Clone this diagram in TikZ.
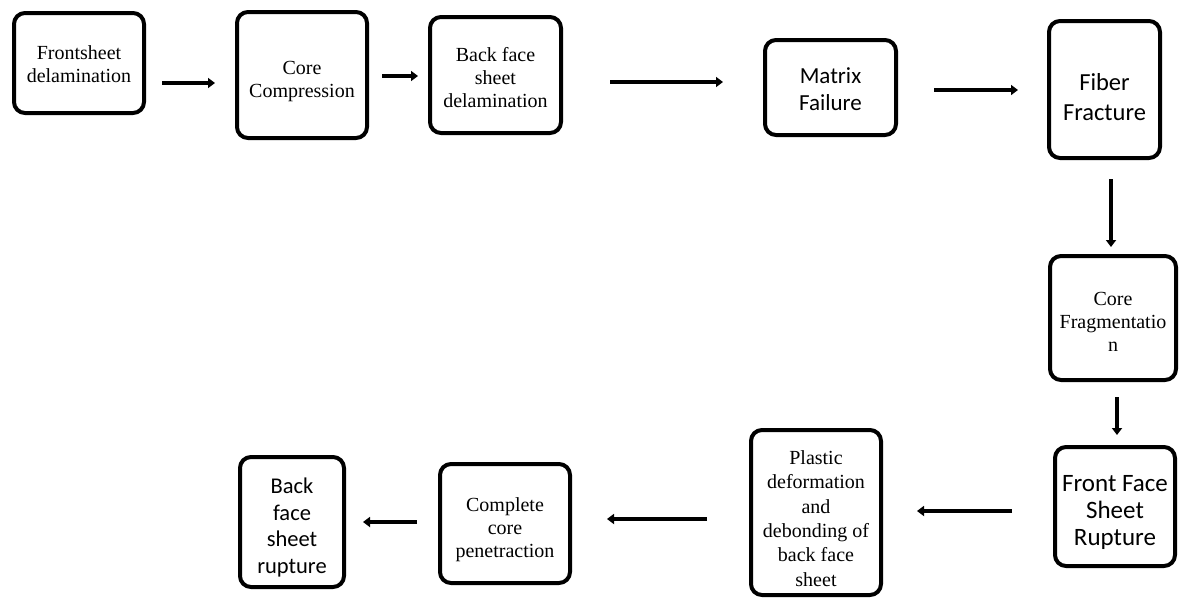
\documentclass[tikz,border=0pt]{standalone}
\usepackage{fontspec}
\setmainfont{Liberation Serif}
\newfontfamily\calibri{Carlito}
\usetikzlibrary{arrows.meta}
% text block set a little below the middle of its box
\newcommand{\stg}[2][6pt]{\raisebox{-#1}[\height][\depth]{\begin{tabular}{@{}c@{}}#2\end{tabular}}}

\begin{document}
\begin{tikzpicture}[line cap=round,line join=round,x=1pt,y=-1pt,
	stage/.style={draw, line width=4pt, rounded corners=11pt, inner sep=0pt,
		font=\fontsize{20}{23}\selectfont},
	stagesf/.style={stage, font=\calibri\fontsize{24}{27}\selectfont},
	flow/.style={line width=3.5pt, line cap=butt, -{Triangle[length=7pt,width=10pt]}}]
	\useasboundingbox (0,0) rectangle (1179,598);
	
	% top row
	\node[stage, minimum width=130pt, minimum height=100pt] (fs) at (79,63) {\stg[3pt]{Frontsheet\\delamination}};
	\node[stage, minimum width=130pt, minimum height=126pt] (cc) at (302,75) {\stg{Core\\Compression}};
	\node[stage, minimum width=131pt, minimum height=116pt] (bfd) at (495.5,75) {\stg[5pt]{Back face\\sheet\\delamination}};
	\node[stagesf, minimum width=131pt, minimum height=95pt, font=\calibri\fontsize{23}{27}\selectfont] (mf) at (830.5,87.5) {\stg[4pt]{Matrix\\Failure}};
	\node[stagesf, minimum width=111pt, minimum height=137pt, font=\calibri\fontsize{24.5}{30}\selectfont] (ff) at (1104.5,89.5) {\stg[10pt]{Fiber\\Fracture}};
	
	% right column
	\node[stage, minimum width=126pt, minimum height=124pt] (cf) at (1113,318) {\stg{Core\\Fragmentatio\\n}};
	\node[stagesf, minimum width=120pt, minimum height=119pt, font=\calibri\fontsize{25}{27}\selectfont] (ffr) at (1115,506.5) {\stg[7pt]{Front Face\\Sheet\\Rupture}};
	
	% bottom row
	\node[stage, minimum width=130pt, minimum height=165pt, font=\fontsize{20}{24.4}\selectfont] (pd) at (816,512.5)
		{\stg[8pt]{Plastic\\deformation\\and\\debonding of\\back face\\sheet}};
	\node[stage, minimum width=130pt, minimum height=119pt] (ccp) at (505,523.5) {\stg{Complete\\core\\penetraction}};
	\node[stagesf, minimum width=104pt, minimum height=130pt, font=\calibri\fontsize{22.5}{26.5}\selectfont] (bfr) at (292,522) {\stg{Back\\face\\sheet\\rupture}};
	
	\draw[flow, shorten <=16pt, shorten >=20pt] ([yshift=-20pt]fs.east) -- ([yshift=-8pt]cc.west);
	\draw[flow, shorten <=13pt, shorten >=10pt] ([yshift=-1pt]cc.east) -- ([yshift=-1pt]bfd.west);
	\draw[flow, shorten <=47pt, shorten >=40pt] ([yshift=-7pt]bfd.east) -- ([yshift=5.5pt]mf.west);
	\draw[flow, shorten <=36pt, shorten >=29pt] ([yshift=-2.5pt]mf.east) -- ([yshift=-0.5pt]ff.west);
	\draw[flow, shorten <=19pt, shorten >=7pt] ([xshift=6.5pt]ff.south) -- ([xshift=-2pt]cf.north);
	\draw[flow, shorten <=15pt, shorten >=10pt] ([xshift=4pt]cf.south) -- ([xshift=2pt]ffr.north);
	\draw[flow, shorten <=41pt, shorten >=34pt] ([yshift=-4.5pt]ffr.west) -- ([yshift=1.5pt]pd.east);
	\draw[flow, shorten <=42pt, shorten >=35pt] ([yshift=-6.5pt]pd.west) -- ([yshift=4.5pt]ccp.east);
	\draw[flow, shorten <=21pt, shorten >=17pt] ([yshift=1.5pt]ccp.west) -- ([yshift=0pt]bfr.east);
\end{tikzpicture}
\end{document}
